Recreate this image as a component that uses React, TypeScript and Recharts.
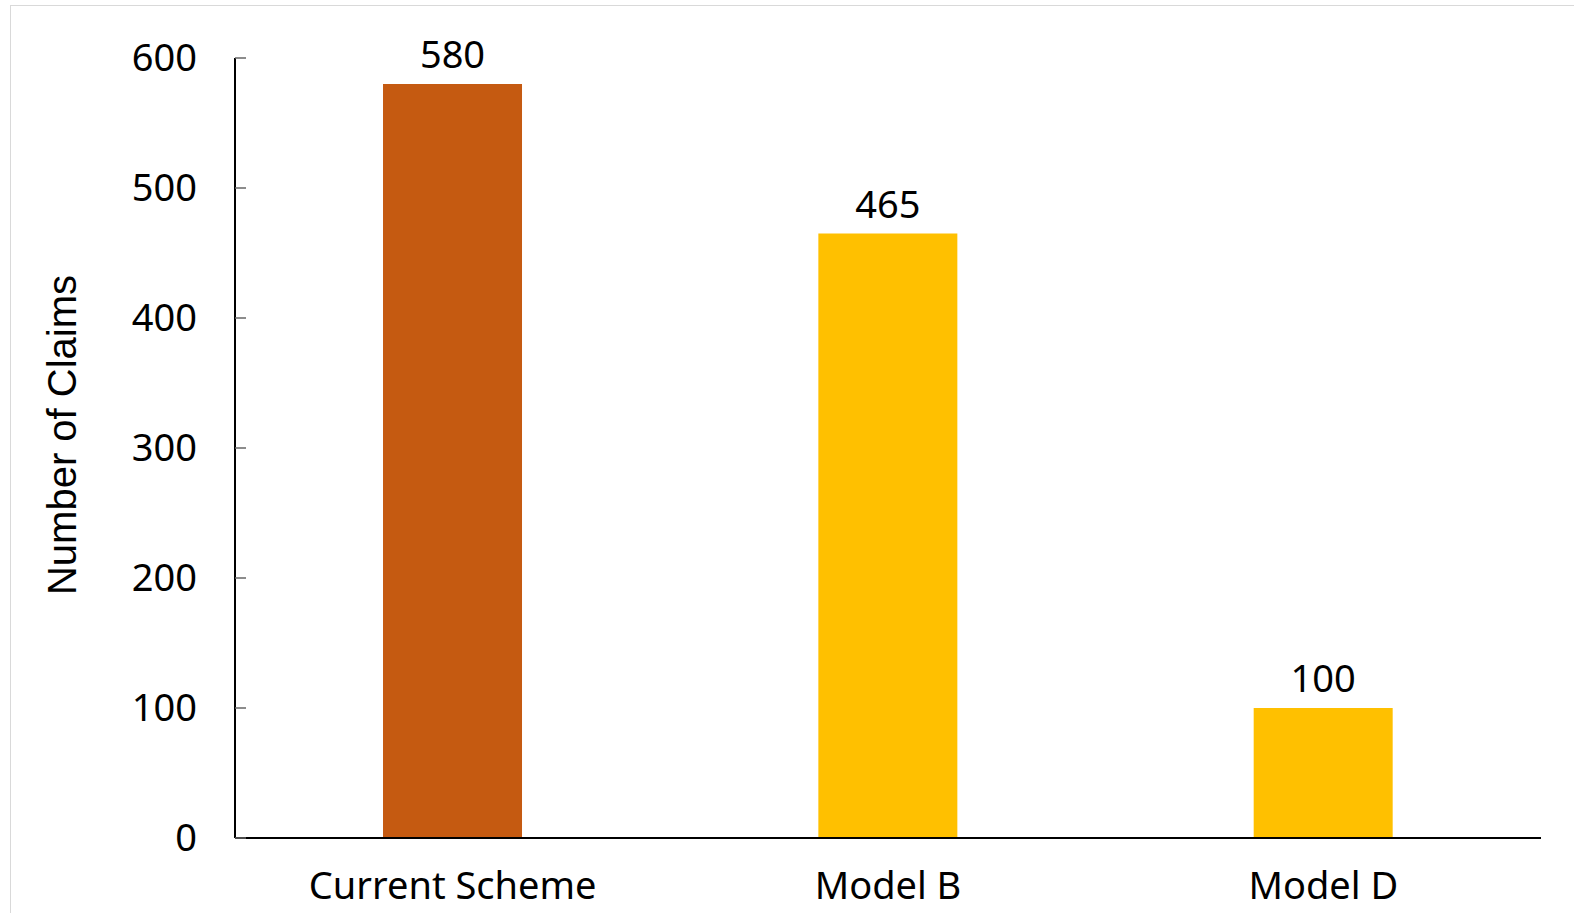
import { BarChart, Bar, XAxis, YAxis, Cell, LabelList } from 'recharts';

const categories = ['Current Scheme', 'Model B', 'Model D'];
const claims = [580, 465, 100];
const barColors = ['#C55A11', '#FFC000', '#FFC000'];
const yTicks = [0, 100, 200, 300, 400, 500, 600];

const chartData = categories.map((name, i) => ({ name, claims: claims[i] }));

const FONT = '"Noto Sans", "Open Sans", sans-serif';

const YLabel = () => (
  <text
    x={62}
    y={435}
    transform="rotate(-90, 62, 435)"
    textAnchor="middle"
    dominantBaseline="central"
    fontFamily='"Liberation Sans", Arial, sans-serif'
    fontSize={40}
    fill="#000"
  >
    Number of Claims
  </text>
);

const App = () => {
  return (
    <div
      style={{
        position: 'absolute',
        left: 0,
        top: 0,
        width: 1574,
        height: 913,
        overflow: 'hidden',
        background: '#fff',
      }}
    >
      <div
        style={{
          position: 'absolute',
          left: 10,
          top: 5,
          width: 1700,
          height: 1000,
          border: '1.5px solid #d9d9d9',
        }}
      />
      <div style={{ position: 'absolute', left: 0, top: 0 }}>
        <BarChart
          width={1574}
          height={913}
          data={chartData}
          margin={{ top: 58, right: 33, bottom: 0, left: 0 }}
          barCategoryGap="34%"
        >
          <XAxis
            dataKey="name"
            height={75}
            axisLine={{ stroke: '#000', strokeWidth: 2 }}
            tickLine={false}
            tickSize={0}
            tickMargin={34}
            tick={{ fill: '#000', fontSize: 38, fontFamily: FONT }}
            interval={0}
          />
          <YAxis
            width={235}
            domain={[0, 600]}
            ticks={yTicks}
            axisLine={{ stroke: '#000', strokeWidth: 2 }}
            tickLine={{ stroke: '#666', strokeWidth: 1.5 }}
            tickSize={-11}
            tickMargin={49}
            tick={{ fill: '#000', fontSize: 38, fontFamily: FONT }}
            label={<YLabel />}
          />
          <Bar dataKey="claims" isAnimationActive={false}>
            {chartData.map((entry, index) => (
              <Cell key={`cell-${index}`} fill={barColors[index]} />
            ))}
            <LabelList
              dataKey="claims"
              position="top"
              offset={16}
              fill="#000"
              fontSize={38}
              fontFamily={FONT}
            />
          </Bar>
        </BarChart>
      </div>
    </div>
  );
};

export default App;
